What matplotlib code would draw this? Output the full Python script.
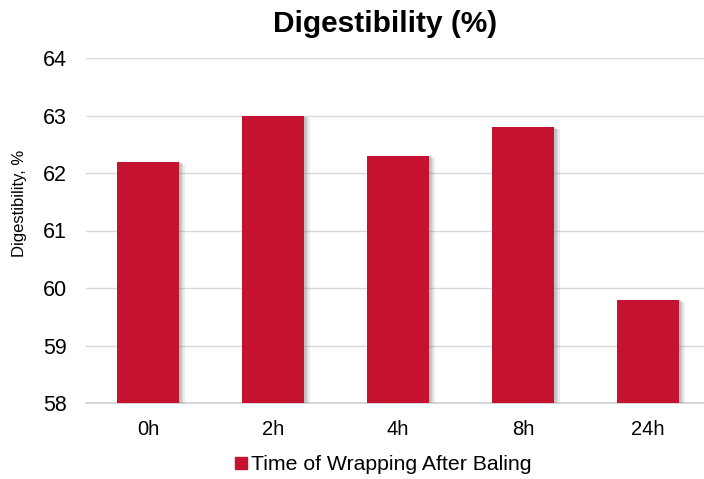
import matplotlib.pyplot as plt
import matplotlib.patheffects as pe
from matplotlib.lines import Line2D

plt.rcParams['font.family'] = ['Liberation Sans', 'DejaVu Sans']

# Digestibility by wrapping delay
categories = ["0h", "2h", "4h", "8h", "24h"]
digestibility = [62.2, 63.0, 62.3, 62.8, 59.8]
y_ticks = [58, 59, 60, 61, 62, 63, 64]

bar_color = "#c41230"

fig = plt.figure(figsize=(7.04, 4.79), dpi=100)
ax = fig.add_axes([85.5 / 704, 1 - 403 / 479, 625 / 704, 345 / 479])

x = range(len(categories))
bars = ax.bar(x, digestibility, width=0.5, color=bar_color, zorder=3)
# soft drop shadow built from a few faint offset copies
shadow = [pe.SimplePatchShadow(offset=(d, -d * 0.4), shadow_rgbFace="#707070", alpha=0.13)
          for d in (4, 3, 2, 1)]
for b in bars:
    b.set_path_effects(shadow + [pe.Normal()])

ax.set_ylim(58, 64)
ax.set_xlim(-0.5, 4.5)
ax.set_yticks(y_ticks)
ax.set_xticks(list(x))
ax.set_xticklabels(categories)
ax.tick_params(axis="both", length=0, colors="#000000")
ax.tick_params(axis="x", pad=12, labelsize=14.5)
ax.tick_params(axis="y", pad=13.5, labelsize=15.5)

ax.grid(axis="y", color="#d9d9d9", linewidth=1, zorder=0)
for side in ["top", "right", "left"]:
    ax.spines[side].set_visible(False)
ax.spines["bottom"].set_color("#d0d0d0")
ax.spines["bottom"].set_linewidth(1.2)

fig.text(20 / 704, 1 - 203 / 479, "Digestibility, %", rotation=90, ha="center", va="center",
         fontsize=12)

fig.text(385 / 704, 1 - 24 / 479, "Digestibility (%)", ha="center", va="center",
         fontsize=21.5, fontweight="bold")

handle = Line2D([], [], marker="s", color="none", markerfacecolor=bar_color,
                markeredgecolor=bar_color, markersize=8)
fig.legend([handle], ["Time of Wrapping After Baling"], loc="center",
           bbox_to_anchor=(382 / 704, 1 - 465 / 479), frameon=False, fontsize=15.3,
           handletextpad=0.1, handlelength=0.8)

fig.savefig("out.png", dpi=100)
